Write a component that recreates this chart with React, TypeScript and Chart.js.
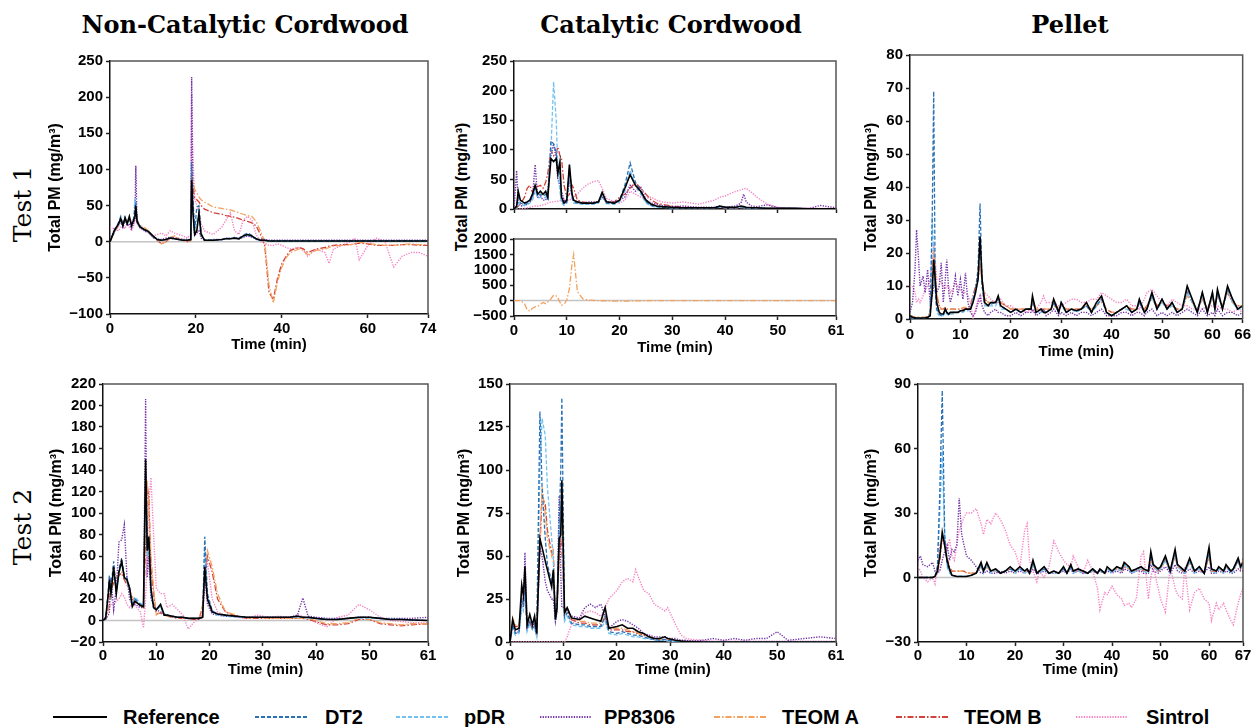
import React, { useEffect, useRef } from "react";
import { Chart, registerables } from "chart.js";
Chart.register(...registerables);

const SANS = '"Liberation Sans", Arial, sans-serif';
const SERIF = '"DejaVu Serif", serif';

// ---------------- DATA ----------------
// Panel A: Non-Catalytic Cordwood, Test 1 (time in min, PM in mg/m3)
const T_A = [0,1,2,2.5,3,3.5,4,4.5,5,5.5, 5.8,6,6.3,7,8,9,10,11,12,13, 14,15,16,17,18,18.8,19,19.3,19.7,20.2, 20.7,21.2,22,24,26,27,28,29,30,31, 32,33,34,35,36,37,38,39,40,41, 42,44,45,46,48,50,51,52,54,56, 57,58,60,62,64,66,68,70,72,74];
const REF_A = [0,15,25,32,22,33,25,35,22,30, 35,50,28,20,17,14,8,3,2,3, 5,4,3,2,2,3,85,40,10,15, 40,10,2,2,3,4,4,5,4,8, 10,8,4,2,2,1,1,1,1,1, 1,1,1,1,1,1,1,1,1,1, 1,1,1,1,1,1,1,1,1,1];
const DT2_A = [0,14,27,35,24,34,26,33,24,32, 45,55,30,21,16,13,7,3,2,3, 5,4,3,2,2,3,110,60,15,48, 50,12,2,2,3,4,5,5,5,9, 12,9,4,2,2,1,1,1,1,1, 1,1,1,1,1,1,1,1,1,1, 1,1,1,1,1,1,1,1,1,1];
const PDR_A = [0,13,24,30,23,31,24,32,23,30, 60,48,27,19,16,13,7,3,2,3, 5,4,3,2,2,3,75,45,12,30, 35,10,2,2,3,4,4,5,4,7, 9,7,3,2,1,1,1,1,1,1, 1,1,1,1,1,1,1,1,1,1, 1,1,1,1,1,1,1,1,1,1];
const PP_A = [0,18,22,28,20,30,22,25,18,26, 30,105,25,22,15,13,6,4,3,5, 6,5,4,3,3,3,228,50,8,12, 15,5,2,3,3,5,4,6,4,6, 8,6,4,3,3,2,2,2,2,2, 2,2,2,2,2,2,2,2,2,2, 2,2,2,2,2,2,2,2,2,2];
const TEOMA_A = [0,12,22,30,28,25,30,32,28,30, 32,48,30,22,20,15,8,3,-3,0, 6,8,5,3,0,2,95,85,72,68, 62,58,55,48,46,45,44,42,40,38, 36,35,28,15,0,-60,-85,-55,-35,-22, -15,-10,-12,-18,-12,-10,-8,-6,-5,-4, -3,-1,-2,-4,-5,-5,-4,-3,-4,-4];
const TEOMB_A = [0,14,24,28,26,28,27,30,26,28, 30,45,28,20,18,13,6,2,-3,0, 5,6,3,2,0,2,90,75,60,58, 55,50,45,40,38,36,35,34,32,30, 28,26,22,10,-5,-70,-80,-50,-30,-20, -12,-8,-10,-15,-10,-8,-6,-5,-4,-4, -3,-2,-3,-5,-5,-5,-4,-4,-5,-5];
const SIN_A = [20,18,15,20,22,18,25,20,15,22, 30,40,25,18,15,12,8,10,12,8, 15,12,10,8,5,10,205,120,60,50, 40,25,15,10,20,30,40,15,10,30, 35,30,10,0,-2,-5,-5,-3,-5,-8, -10,-8,-12,-20,-10,-15,-30,-10,-5,0, 5,-25,-5,5,0,-35,-20,-15,-15,-20];

// Panel B: Catalytic Cordwood, Test 1 (upper part + lower TEOM A part)
const T_B = [0,0.5,0.8,1.2,2,2.5,3,3.5,4,4.5, 5,5.5,6,6.4,7,7.5,8,8.3,8.7,9, 9.5,10,10.5,11,11.3,12,13,14,15,16, 16.7,17.5,19,20,21,22,23,24,25,26, 27,28,30,32,35,38,39,40,42,43, 43.5,44,45,46,48,50,53,56,58,61];
const REF_B = [0,5,30,15,10,12,15,25,40,25, 30,25,30,20,85,80,85,60,80,20, 10,15,75,25,15,12,10,10,10,12, 28,12,10,15,35,58,40,30,15,8, 5,4,3,2,2,2,5,3,3,5, 4,3,2,2,1,1,1,0.5,0.5,0.5];
const DT2_B = [0,3,20,10,8,10,12,20,35,22, 25,22,25,18,115,110,95,70,60,15, 8,12,70,20,12,10,9,9,9,11, 25,10,9,15,40,78,45,30,12,6, 4,3,2,2,2,2,4,3,2,4, 3,2,2,1,1,1,1,0.5,0.5,0.5];
const PDR_B = [0,2,10,8,6,8,10,15,30,18, 20,18,20,15,100,215,150,70,30,10, 6,10,60,18,10,9,8,8,8,10, 22,9,8,12,30,65,40,25,10,5, 3,3,2,2,2,2,3,2,2,3, 2,2,1,1,1,1,1,0.5,0.5,0.5];
const PP_B = [0,65,10,5,6,8,10,20,75,18, 22,15,15,30,90,110,85,50,40,30, 15,12,50,20,15,12,10,12,12,12, 20,12,12,15,20,40,30,38,15,10, 8,6,4,5,3,3,5,3,5,10, 25,12,5,4,7,2,1,1,6,2];
const TEOMB_B = [0,2,5,8,20,35,40,28,40,38, 40,35,45,60,100,90,95,105,90,85, 40,20,25,40,35,15,12,10,10,12, 20,12,12,20,25,35,45,35,25,15, 10,8,5,3,2,2,3,2,2,2, 2,2,2,1,1,1,1,0.5,0.5,0.5];
const SIN_B = [0,0,0,0,1,2,3,4,5,5, 6,7,8,10,12,12,13,13,14,15, 15,15,15,18,20,25,35,42,46,48, 35,18,12,10,15,30,25,20,18,20, 15,12,10,12,8,15,20,22,30,32, 34,35,28,20,8,3,1,1,1,1];
const TEOMA_B = [0,0,0,0,-100,-300,-340,-250,-200,-190, -120,-60,-100,-40,60,180,150,100,-50,-150, -120,20,400,1200,1500,300,60,20,5,0, -5,-10,-15,-20,-20,-15,-10,-10,-5,0, 0,0,0,0,0,0,0,0,0,0, 0,0,0,0,0,0,0,0,0,0];

// Panel C: Pellet, Test 1
const T_C = [0,0.5,1,1.3,1.7,2,2.6,3,3.5,4, 4.4,4.7,5,5.3,5.8,6.2,6.6,7,7.3,7.7, 8,8.5,9,9.5,10,10.5,11,11.5,12,12.5, 13,13.5,13.9,14.3,14.8,15.5,16,17,17.5,18, 19,20,21,22,23,24,24.3,25,26,26.5, 27,28,28.5,29.5,30,31,32,33,34,35, 36,37,38,39,40,41,42,43,44,45, 45.5,46.5,47,48,49,50,51,52,53,54, 55,56,57,58,59,60,60.5,61,62,63, 64,65,66];
const REF_C = [1,0.5,0.4,0.3,0.3,0.3,0.3,0.3,0.5,1, 8,18,12,5,2,1.5,1.5,3,2,1.5, 2,2,2,2,2.5,2.5,3,3,3,5, 8,12,25,12,5,4,5,5,7,4, 3,2,3,2,3,3,7,2,3,2, 2,3,6,2,5,2,3,2.5,3,5, 2,5,7,2,1,2,3,4,2,3, 6,2,3,8,3,6,3,5,2,3, 10,6,2,8,2,8,3,9,3,10, 6,3,4];
const DT2_C = [0.5,0.3,0.2,0.2,0.2,0.2,0.2,0.2,0.4,1, 30,69,10,3,1.5,1,1.2,2.5,2,1.5, 1.8,2,2,2,2.5,2.5,3,3,3,6, 9,15,35,10,5,4,4.5,5,6,4, 3,2,3,2,3,3,6,2,3,2, 2,3,5,2,5,2,3,2.5,3,4, 2,4,6,2,1,2,3,4,2,3, 5,2,3,7,3,6,3,5,2,3, 9,6,2,8,2,8,3,8,3,9, 6,3,4];
const PDR_C = [0.5,0.3,0.2,0.2,0.2,0.2,0.2,0.2,0.5,1.5, 31,20,8,2,1,1,1,2,1.5,1, 1.5,1.5,2,2,2,2,2.5,2.5,3,6, 8,12,22,10,4,4,4,4,6,3, 3,2,3,2,3,3,6,2,2,2, 2,3,5,2,4,2,3,2,3,4, 2,4,6,2,1,2,3,3,2,3, 5,2,3,7,3,5,3,4,2,3, 8,5,2,7,2,7,3,8,3,9, 5,3,3];
const PP_C = [2,5,15,27,18,10,13,8,15,5, 7,10,12,8,10,17,5,12,18,8, 5,8,13,7,12,6,14,5,2,1, 2,5,7,4,2,1,2,3,2,2, 1,1,2,1,2,2,3,1,2,3, 1,2,3,1,2,1,2,1,2,2, 1,2,3,1,1,1,2,2,1,2, 2,1,2,3,1,2,1,2,1,2, 3,2,1,3,1,2,1,3,1,2, 2,1,2];
const TEOMA_C = [1,0.8,0.5,0.5,0.5,0.5,0.5,0.5,0.8,2, 12,22,15,8,4,3,3,3,3,3, 3,3,3,3,3,3.5,3.5,3.5,4,6, 9,12,15,12,7,5,5,5,5,5, 4,3,3,3,3,3,5,3,3,3, 3,3,4,3,4,3,3,3,3,4, 3,4,5,3,2,2,3,4,3,3, 5,3,4,6,4,5,4,4,3,3, 7,5,3,6,3,6,4,7,4,8, 5,4,4];
const TEOMB_C = [1,0.8,0.5,0.5,0.5,0.5,0.5,0.5,0.8,2, 14,20,14,7,4,3,3,3.5,3,3, 3,3,3,3,3,3,3,3.5,4,7, 10,13,16,12,6,5,5,5,6,5, 4,3,3,3,3,3,6,3,3,3, 3,3,5,3,4,3,3,3,3,4, 3,4,6,3,2,2,3,4,3,3, 5,3,4,7,4,5,4,4,3,3, 8,5,3,6,3,7,4,7,4,8, 5,4,4];
const SIN_C = [10,10,8,5,6,5,7,9,10,12, 18,23,18,12,12,11,10,9,10,10, 8,9,11,10,9,8,8,7,5,0, 3,6,5,7,8,7,6,5,5,6, 4,4,3,3,2,3,2,3,5,7, 5,5,5,4,4,5,6,6,5,5, 6,6,8,7,6,5,5,6,4,4, 3,6,8,9,7,5,4,6,5,4, 4,3,3,3,4,4,3,4,3,3, 2,3,2];

// Panel D: Non-Catalytic Cordwood, Test 2
const T_D = [0,0.5,1,1.2,1.5,2,2.5,3,3.5,4, 4.5,5,5.5,6,7,7.6,8,8.3,8.6,9, 9.5,10,10.8,11.5,12,13,14,15,16,17, 18,18.7,19.1,19.6,20.5,21.5,23,25,27,29, 31,33,35,36.5,37.5,38.5,40,42,44,46, 48,50,52,54,56,58,61];
const REF_D = [0,2,25,38,25,50,25,45,55,40, 38,30,13,18,14,13,150,65,78,30, 12,10,15,5,5,4,3,3,2,2, 2,3,50,20,8,6,5,4,3,3, 3,3,3,4,3,3,2,1,1,2, 3,3,2,1,1,0.5,0];
const DT2_D = [0,3,28,42,30,55,28,48,58,42, 40,30,14,20,15,14,140,70,75,25, 12,10,14,5,5,4,3,3,2,2, 2,4,78,25,9,6,5,4,3,3, 3,3,3,4,3,3,2,1,1,2, 3,3,2,1,1,0.5,0];
const PDR_D = [0,2,25,40,28,45,27,45,52,40, 36,28,15,22,16,14,130,60,70,25, 12,10,13,5,5,4,3,3,2,2, 2,3,65,22,8,5,4,3,3,3, 3,3,3,3,3,2,2,1,1,2, 2,2,2,1,1,0.5,0];
const PP_D = [0,1,5,8,40,10,30,73,75,89, 40,20,15,15,12,12,206,40,60,20, 15,10,8,6,5,4,3,3,2,2, 2,3,45,15,6,5,4,4,3,3, 3,3,3,5,21,4,3,2,2,2, 3,3,2,2,2,2,3];
const TEOMA_D = [0,2,10,20,30,38,40,44,45,40, 35,30,22,18,15,12,80,130,110,60, 30,5,8,5,4,3,3,2,2,2, 2,15,40,65,50,25,8,5,2,3, 2,2,2,2,2,2,0,-3,-3,-2, 2,1,-2,-3,-4,-3,-3];
const TEOMB_D = [0,2,12,22,28,35,38,42,44,38, 33,28,20,17,14,12,70,125,115,50, 25,6,7,5,4,3,2,2,2,1, 1,12,45,60,45,20,8,4,2,2, 2,2,2,2,2,1,-1,-4,-4,-3, 1,1,-3,-4,-5,-4,-3];
const SIN_D = [0,5,10,12,15,15,18,20,25,22, 15,12,15,14,8,-7,20,60,110,133, 80,30,25,25,12,15,10,5,-8,-2, 2,5,30,55,20,8,5,3,2,5, 3,4,3,5,4,2,-2,-6,3,5, 15,10,3,0,-1,-2,-2];

// Panel E: Catalytic Cordwood, Test 2
const T_E = [0,0.5,1,1.7,2.2,2.5,2.8,3.2,3.7,4.2, 4.6,5,5.6,6,6.6,7,7.8,8.1,8.5,8.8, 9.2,9.5,9.7,10.2,10.7,11.5,13,14,15,16, 17,17.8,18.5,20,21,22,23,23.5,24,25, 26,27,28,29,29.5,31,32,33,34,36, 38,40,42,44,46,48,50,52,55,58, 61];
const REF_E = [0,13,7,8,33,27,44,10,16,10, 15,5,60,55,47,42,32,42,13,20, 60,62,94,17,20,14,13,15,14,13, 12,20,8,9,10,8,8,7,6,5, 3,2,2,3,2,1,0.5,0.3,0.2,0, 0,0,0,0,0,0,0,0,0,0, 0];
const DT2_E = [0,10,5,6,25,22,35,8,12,8, 10,4,134,90,60,45,35,40,13,20, 70,100,142,14,17,11,10,10,9,9, 9,15,6,5,6,5,4,4,4,3, 2,1.5,1,1.5,1,0.5,0.3,0.2,0,0, 0,0,0,0,0,0,0,0,0,0, 0];
const PDR_E = [0,8,4,5,20,18,28,6,10,7, 8,3,100,130,120,90,60,50,15,20, 60,80,70,12,15,10,9,9,8,8, 8,12,5,4,5,4,3,3,3,2, 2,1,1,1,0.5,0.3,0.2,0,0,0, 0,0,0,0,0,0,0,0,0,0, 0];
const PP_E = [0,10,5,6,25,20,52,8,12,8, 12,4,55,50,35,30,25,25,12,18, 85,40,20,20,18,15,14,20,22,20, 22,15,8,12,13,12,10,9,8,5, 4,3,3,3,2,2,1,1,0.5,1, 2,1,2,1,2,2,6,1,2,3, 2];
const TEOMA_E = [0,14,10,10,25,25,30,10,12,8, 10,5,60,90,75,60,50,55,15,20, 55,65,60,20,18,14,12,12,11,11, 11,15,8,8,8,7,6,6,5,4, 3,2,1.5,1.5,1,0.5,0.3,0.2,0,0, 0,0,0,0,0,0,0,0,0,0, 0];
const TEOMB_E = [0,12,9,9,22,22,28,9,11,8, 9,5,55,85,80,65,52,50,14,18, 50,60,55,18,16,13,11,11,10,10, 10,14,7,7,7,6,6,5,5,4, 3,2,1.5,1.5,1,0.5,0.3,0.2,0,0, 0,0,0,0,0,0,0,0,0,0, 0];
const SIN_E = [0,0,0,0,0,0,0,0,0,0, 0,0,0,0,0,0,0,0,0,0, 0,0,0,0,3,10,14,17,18,17, 15,20,25,30,35,37,35,42,38,30, 28,22,20,18,20,10,4,2,1.5,1, 0.5,0.5,0.5,0.5,0.5,0.5,0.5,0.5,0.5,0.5, 0.5];

// Panel F: Pellet, Test 2
const T_F = [0,0.5,1,2,3,3.5,4,4.5,5,5.5, 6,6.5,7,7.5,8,8.5,9,9.5,10,11, 12,13,13.5,14.2,15,16,17,18,19,20, 21,22,22.5,23,23.7,24.5,25,26,27,28, 29,30,30.7,31.5,32,33,34,35,36,37, 37.5,38.5,39,40,41,42,42.5,43.5,44,45, 46,46.5,47.5,48,48.5,49.5,50,51,52,53, 53.5,54.5,55,56,57,58,59,60,60.5,61.5, 62,63,63.5,64.5,65,66,66.5,67];
const REF_F = [0,0,0,0,0,0.5,3,10,21,15, 8,4,1,0.8,0.5,0.5,0.5,0.5,0.5,1, 2,7,3,7,3,4,2,3,5,3, 5,3,4,2,8,2,3,5,2,3, 2,5,2,6,3,4,3,2,4,2, 4,2,5,3,5,4,7,5,3,4, 5,4,3,12,6,4,5,10,3,13, 6,4,3,9,3,5,2,14,4,3, 5,3,6,3,4,9,5,7];
const DT2_F = [0,0,0,0,0,0.5,5,40,87,20, 6,3,1,0.8,0.5,0.5,0.5,0.5,0.5,1, 2,6,3,6,3,4,2,3,4,3, 4,3,4,2,7,2,3,4,2,3, 2,4,2,5,3,4,3,2,4,2, 4,2,4,3,5,4,6,5,3,4, 5,4,3,10,6,4,5,9,3,12, 6,4,3,8,3,5,2,12,4,3, 5,3,5,3,4,8,5,6];
const PDR_F = [0,0,0,0,0,0.5,4,30,60,18, 5,2,0.8,0.5,0.5,0.5,0.5,0.5,0.5,1, 2,5,2,6,2,3,2,3,4,2, 4,2,3,2,6,2,2,4,2,2, 2,4,2,5,2,3,2,2,3,2, 3,2,4,2,4,3,6,4,2,3, 4,3,2,10,5,3,4,8,2,11, 5,3,2,7,2,4,2,11,3,2, 4,2,5,2,3,8,4,6];
const PP_F = [8,10,6,5,7,3,2,3,8,12, 15,8,13,12,15,37,20,15,10,8, 5,2,2,3,2,2,3,2,3,2, 3,2,3,2,4,2,2,3,2,2, 2,3,2,4,2,3,2,2,3,2, 3,2,3,2,3,2,4,3,2,3, 3,2,2,6,3,2,3,5,2,6, 3,2,2,4,2,3,2,5,2,2, 3,2,3,2,2,4,3,3];
const TEOMA_F = [0,0,0,0,0,0.5,3,10,20,15, 8,4,3,3,3,3,3,3,2,2, 2,5,3,5,3,3,2,3,4,3, 4,3,3,2,6,2,3,4,2,3, 2,4,2,5,3,3,3,2,3,2, 3,2,4,3,4,3,5,4,3,3, 4,3,3,9,5,3,4,8,3,10, 5,3,3,7,3,4,2,10,3,3, 4,3,5,3,3,8,4,8];
const TEOMB_F = [0,0,0,0,0,0.5,2,8,19,17, 9,5,3,3,3,3,3,3,2,2, 2,5,3,5,3,3,2,3,4,3, 4,3,3,2,6,2,3,4,2,3, 2,4,2,5,3,3,3,2,3,2, 3,2,4,3,4,3,5,4,3,3, 4,3,3,9,5,3,4,8,3,10, 5,3,3,7,3,4,2,10,3,3, 4,3,5,3,3,8,4,9];
const SIN_F = [5,3,0,-2,0,-3,5,15,17,15, 12,18,10,8,15,22,25,28,30,30, 32,25,20,27,25,30,27,22,15,12, 5,22,25,8,3,-2,3,0,5,17, 12,8,6,5,10,5,2,8,3,-5, -15,-7,-8,-4,-8,-10,-13,-12,-14,-10, 10,12,-10,0,5,-5,-10,-16,5,-5, -8,-10,5,-15,-7,-5,-10,-12,-20,-12, -15,-12,-15,-20,-22,-12,-8,-5];

// Axis ticks
const X_TICKS_A = [0,20,40,60,74];
const X_TICKS_61 = [0,10,20,30,40,50,61];
const X_TICKS_66 = [0,10,20,30,40,50,60,66];
const X_TICKS_67 = [0,10,20,30,40,50,60,67];
const Y_TICKS_A = [-100,-50,0,50,100,150,200,250];
const Y_TICKS_B_TOP = [0,50,100,150,200,250];
const Y_TICKS_B_BOT = [-500,0,500,1000,1500,2000];
const Y_TICKS_C = [0,10,20,30,40,50,60,70,80];
const Y_TICKS_D = [-20,0,20,40,60,80,100,120,140,160,180,200,220];
const Y_TICKS_E = [0,25,50,75,100,125,150];
const Y_TICKS_F = [-30,0,30,60,90];

const COLUMN_TITLES = ["Non-Catalytic Cordwood", "Catalytic Cordwood", "Pellet"];
const ROW_TITLES = ["Test 1", "Test 2"];
const X_TITLE = "Time (min)";
const Y_TITLE = "Total PM (mg/m\u00B3)";

// ---------------- STYLES ----------------
type Key = "ref" | "dt2" | "pdr" | "pp" | "teomA" | "teomB" | "sin";
const STYLES: Record<Key, { label: string; color: string; dash: number[]; width: number; order: number }> = {
  ref: { label: "Reference", color: "#000000", dash: [], width: 1.6, order: 0 },
  dt2: { label: "DT2", color: "#2a72b5", dash: [4, 2], width: 1.3, order: 1 },
  pdr: { label: "pDR", color: "#72c2f2", dash: [4, 2], width: 1.3, order: 2 },
  pp: { label: "PP8306", color: "#7434a8", dash: [1.3, 1.3], width: 1.4, order: 3 },
  teomA: { label: "TEOM A", color: "#f3a25e", dash: [6, 2, 1.5, 2], width: 1.3, order: 4 },
  teomB: { label: "TEOM B", color: "#d2413a", dash: [6, 2, 1.5, 2], width: 1.3, order: 5 },
  sin: { label: "Sintrol", color: "#f784c4", dash: [1.3, 1.3], width: 1.4, order: 6 },
};
const LEGEND_ORDER: Key[] = ["ref", "dt2", "pdr", "pp", "teomA", "teomB", "sin"];

type Spec = {
  box: { left: number; top: number; width: number; height: number };
  yW: number; xH: number; padTop: number; padRight: number; xPad: number;
  xMin: number; xMax: number; xTicks: number[];
  yMin: number; yMax: number; yTicks: number[];
  times: number[];
  series: [Key, number[]][];
  xLabels: boolean; xTitle: boolean; yTitle: boolean;
};

const PANELS: Spec[] = [
  {
    box: { left: 46, top: 49, width: 396, height: 305 }, yW: 64, xH: 40, padTop: 12, padRight: 14, xPad: 2,
    xMin: 0, xMax: 74, xTicks: X_TICKS_A, yMin: -100, yMax: 250, yTicks: Y_TICKS_A, times: T_A,
    series: [["ref", REF_A], ["dt2", DT2_A], ["pdr", PDR_A], ["pp", PP_A], ["teomA", TEOMA_A], ["teomB", TEOMB_A], ["sin", SIN_A]],
    xLabels: true, xTitle: true, yTitle: true,
  },
  {
    box: { left: 464, top: 49, width: 386, height: 172 }, yW: 50, xH: 6, padTop: 12, padRight: 14, xPad: 2,
    xMin: 0, xMax: 61, xTicks: X_TICKS_61, yMin: 0, yMax: 250, yTicks: Y_TICKS_B_TOP, times: T_B,
    series: [["ref", REF_B], ["dt2", DT2_B], ["pdr", PDR_B], ["pp", PP_B], ["teomB", TEOMB_B], ["sin", SIN_B]],
    xLabels: false, xTitle: false, yTitle: false,
  },
  {
    box: { left: 464, top: 227, width: 386, height: 130 }, yW: 50, xH: 41, padTop: 12, padRight: 14, xPad: 2,
    xMin: 0, xMax: 61, xTicks: X_TICKS_61, yMin: -500, yMax: 2000, yTicks: Y_TICKS_B_BOT, times: T_B,
    series: [["teomA", TEOMA_B]],
    xLabels: true, xTitle: true, yTitle: false,
  },
  {
    box: { left: 862, top: 43, width: 392, height: 318 }, yW: 48, xH: 42, padTop: 12, padRight: 11, xPad: 3,
    xMin: 0, xMax: 66, xTicks: X_TICKS_66, yMin: 0, yMax: 80, yTicks: Y_TICKS_C, times: T_C,
    series: [["ref", REF_C], ["dt2", DT2_C], ["pdr", PDR_C], ["pp", PP_C], ["teomA", TEOMA_C], ["teomB", TEOMB_C], ["sin", SIN_C]],
    xLabels: true, xTitle: true, yTitle: true,
  },
  {
    box: { left: 47, top: 372, width: 395, height: 307 }, yW: 56, xH: 37, padTop: 12, padRight: 14, xPad: 1,
    xMin: 0, xMax: 61, xTicks: X_TICKS_61, yMin: -20, yMax: 220, yTicks: Y_TICKS_D, times: T_D,
    series: [["ref", REF_D], ["dt2", DT2_D], ["pdr", PDR_D], ["pp", PP_D], ["teomA", TEOMA_D], ["teomB", TEOMB_D], ["sin", SIN_D]],
    xLabels: true, xTitle: true, yTitle: true,
  },
  {
    box: { left: 455, top: 372, width: 395, height: 307 }, yW: 55, xH: 37, padTop: 12, padRight: 14, xPad: 1,
    xMin: 0, xMax: 61, xTicks: X_TICKS_61, yMin: 0, yMax: 150, yTicks: Y_TICKS_E, times: T_E,
    series: [["ref", REF_E], ["dt2", DT2_E], ["pdr", PDR_E], ["pp", PP_E], ["teomA", TEOMA_E], ["teomB", TEOMB_E], ["sin", SIN_E]],
    xLabels: true, xTitle: true, yTitle: true,
  },
  {
    box: { left: 862, top: 372, width: 392, height: 307 }, yW: 56, xH: 37, padTop: 12, padRight: 11, xPad: 1,
    xMin: 0, xMax: 67, xTicks: X_TICKS_67, yMin: -30, yMax: 90, yTicks: Y_TICKS_F, times: T_F,
    series: [["ref", REF_F], ["dt2", DT2_F], ["pdr", PDR_F], ["pp", PP_F], ["teomA", TEOMA_F], ["teomB", TEOMB_F], ["sin", SIN_F]],
    xLabels: true, xTitle: true, yTitle: true,
  },
];

const fmt = (v: number) => (v < 0 ? "\u2212" + Math.abs(v) : String(v));

const framePlugin = {
  id: "frame",
  beforeDatasetsDraw(chart: any) {
    const { ctx, chartArea } = chart;
    const y = chart.scales.y;
    const y0 = y.getPixelForValue(0);
    if (y0 > chartArea.top && y0 < chartArea.bottom - 1) {
      ctx.save();
      ctx.strokeStyle = "#c4c4c4";
      ctx.lineWidth = 1.5;
      ctx.beginPath();
      ctx.moveTo(chartArea.left, y0);
      ctx.lineTo(chartArea.right, y0);
      ctx.stroke();
      ctx.restore();
    }
  },
  afterDraw(chart: any) {
    const { ctx, chartArea } = chart;
    ctx.save();
    ctx.strokeStyle = "#555555";
    ctx.lineWidth = 1.5;
    ctx.beginPath();
    ctx.moveTo(chartArea.left, chartArea.top);
    ctx.lineTo(chartArea.right, chartArea.top);
    ctx.lineTo(chartArea.right, chartArea.bottom);
    ctx.stroke();
    ctx.restore();
  },
};

function Panel({ spec }: { spec: Spec }) {
  const ref = useRef<HTMLCanvasElement>(null);
  useEffect(() => {
    const canvas = ref.current;
    if (!canvas) return;
    const datasets = spec.series.map(([key, values]) => {
      const st = STYLES[key];
      const n = Math.min(values.length, spec.times.length);
      return {
        label: st.label,
        data: values.slice(0, n).map((v, i) => ({ x: spec.times[i], y: v })),
        borderColor: st.color,
        backgroundColor: st.color,
        borderWidth: st.width,
        borderDash: st.dash,
        pointRadius: 0,
        fill: false,
        tension: 0,
        order: st.order,
      };
    });
    const tickFont = { family: SANS, size: 15, weight: "bold" as const };
    const titleFont = { family: SANS, size: 16, weight: "bold" as const };
    const xTitleFont = { family: SANS, size: 15, weight: "bold" as const };
    const chart = new Chart(canvas, {
      type: "line",
      data: { datasets },
      plugins: [framePlugin],
      options: {
        animation: false,
        responsive: false,
        maintainAspectRatio: false,
        events: [],
        layout: { padding: { left: 0, right: spec.padRight, top: spec.padTop, bottom: 0 } },
        plugins: { legend: { display: false }, tooltip: { enabled: false } },
        scales: {
          x: {
            type: "linear",
            min: spec.xMin,
            max: spec.xMax,
            afterBuildTicks: (s: any) => { s.ticks = spec.xTicks.map((v) => ({ value: v })); },
            afterFit: (s: any) => { s.height = spec.xH; },
            grid: { display: true, drawOnChartArea: false, drawTicks: true, tickLength: 4, tickColor: "#222", tickWidth: 1.5 },
            border: { display: true, color: "#111", width: 1.5 },
            ticks: { display: spec.xLabels, color: "#000", font: tickFont, padding: spec.xPad, autoSkip: false, maxRotation: 0, callback: (v: any) => fmt(Number(v)) },
            title: { display: spec.xTitle, text: X_TITLE, color: "#000", font: xTitleFont, padding: 0 },
          },
          y: {
            type: "linear",
            min: spec.yMin,
            max: spec.yMax,
            afterBuildTicks: (s: any) => { s.ticks = spec.yTicks.map((v) => ({ value: v })); },
            afterFit: (s: any) => { s.width = spec.yW; },
            grid: { display: true, drawOnChartArea: false, drawTicks: true, tickLength: 4, tickColor: "#222", tickWidth: 1.5 },
            border: { display: true, color: "#111", width: 1.5 },
            ticks: { color: "#000", font: tickFont, padding: 3, autoSkip: false, callback: (v: any) => fmt(Number(v)) },
            title: { display: spec.yTitle, text: Y_TITLE, color: "#000", font: titleFont, padding: 0 },
          },
        },
      } as any,
    });
    return () => chart.destroy();
  }, [spec]);
  const { left, top, width, height } = spec.box;
  return (
    <canvas
      ref={ref}
      width={width}
      height={height}
      style={{ position: "absolute", left, top, width, height }}
    />
  );
}

const COLUMN_CENTERS = [245, 671, 1070];
const ROW_CENTERS = [204, 527];
const LEGEND_LAYOUT = [
  { x1: 53, x2: 107, tx: 123 },
  { x1: 255, x2: 308, tx: 325 },
  { x1: 396, x2: 448, tx: 464 },
  { x1: 540, x2: 592, tx: 604 },
  { x1: 714, x2: 766, tx: 782 },
  { x1: 896, x2: 948, tx: 964 },
  { x1: 1076, x2: 1128, tx: 1146 },
];
const LEGEND_Y = 717;

export default function App() {
  return (
    <div style={{ position: "absolute", left: 0, top: 0, width: 1254, height: 727, overflow: "hidden", background: "#fff" }}>
      {COLUMN_TITLES.map((t, i) => (
        <div key={t} style={{ position: "absolute", left: COLUMN_CENTERS[i], top: 24, transform: "translate(-50%, -50%)", fontFamily: SERIF, fontWeight: "bold", fontSize: 24, whiteSpace: "nowrap", color: "#000" }}>{t}</div>
      ))}
      {ROW_TITLES.map((t, i) => (
        <div key={t} style={{ position: "absolute", left: 22, top: ROW_CENTERS[i], transform: "translate(-50%, -50%) rotate(-90deg)", fontFamily: SERIF, fontSize: 25, whiteSpace: "nowrap", color: "#000" }}>{t}</div>
      ))}
      <div style={{ position: "absolute", left: 462, top: 187, transform: "translate(-50%, -50%) rotate(-90deg)", fontFamily: SANS, fontWeight: "bold", fontSize: 16, whiteSpace: "nowrap", color: "#000" }}>{Y_TITLE}</div>
      {PANELS.map((p, i) => <Panel key={i} spec={p} />)}
      {LEGEND_ORDER.map((k, i) => {
        const st = STYLES[k];
        const L = LEGEND_LAYOUT[i];
        return (
          <React.Fragment key={k}>
            <svg style={{ position: "absolute", left: L.x1, top: LEGEND_Y - 3, width: L.x2 - L.x1, height: 6 }}>
              <line x1={0} y1={3} x2={L.x2 - L.x1} y2={3} stroke={st.color} strokeWidth={2} strokeDasharray={st.dash.length ? st.dash.join(" ") : undefined} />
            </svg>
            <div style={{ position: "absolute", left: L.tx, top: LEGEND_Y - 12, height: 24, lineHeight: "24px", fontFamily: SANS, fontWeight: "bold", fontSize: 20, whiteSpace: "nowrap", color: "#000" }}>{st.label}</div>
          </React.Fragment>
        );
      })}
    </div>
  );
}
